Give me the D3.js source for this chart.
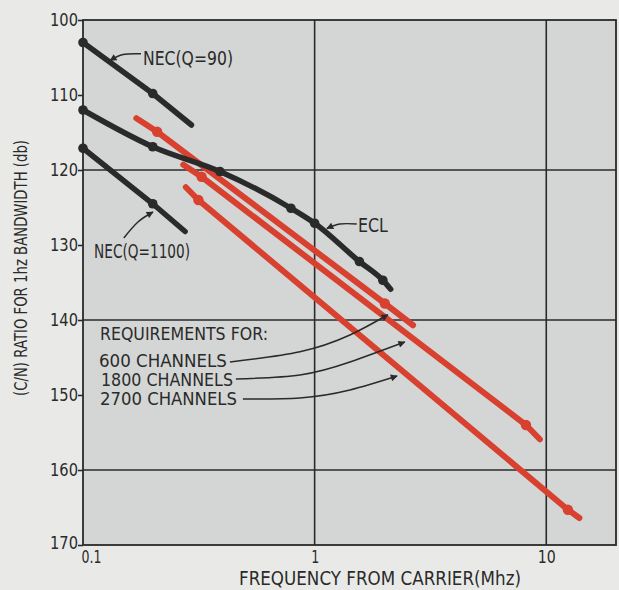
<!DOCTYPE html>
<html>
<head>
<meta charset="utf-8">
<script src="https://cdn.jsdelivr.net/npm/d3@7"></script>
<style>
  html, body { margin: 0; padding: 0; background: #e9eae8; }
  svg { display: block; }
  text { font-family: "DejaVu Sans", "Liberation Sans", sans-serif; fill: #2a2a2a; }
</style>
</head>
<body>
<svg id="chart" width="619" height="590"></svg>
<script>
// ---------- DATA ----------
const xTicks = [0.1, 1, 10];
const xTickLabels = ["0.1", "1", "10"];
const yTicks = [100, 110, 120, 130, 140, 150, 160, 170];
const yTickLabels = ["100", "110", "120", "130", "140", "150", "160", "170"];
const xGrid = [1, 10];
const yGrid = [120, 140, 160];

// black curves (frequency in MHz, C/N in dB)
const necQ90X = [0.1, 0.2, 0.294];
const necQ90Y = [103.0, 109.8, 114.0];
const necQ90Dots = [0, 1];

const eclX = [0.1, 0.2, 0.39, 0.79, 1.0, 1.56, 1.97, 2.13];
const eclY = [112.0, 116.9, 120.2, 125.1, 127.1, 132.2, 134.7, 135.9];
const eclDots = [0, 1, 2, 3, 4, 5, 6];

const necQ1100X = [0.1, 0.2, 0.276];
const necQ1100Y = [117.1, 124.5, 128.2];
const necQ1100Dots = [0, 1];

// red requirement lines
const req600X = [0.17, 0.209, 2.01, 2.66];
const req600Y = [113.1, 114.9, 137.8, 140.7];
const req600Dots = [1, 2];

const req1800X = [0.271, 0.325, 8.17, 9.38];
const req1800Y = [119.3, 120.9, 154.0, 155.9];
const req1800Dots = [1, 2];

const req2700X = [0.278, 0.315, 12.4, 13.9];
const req2700Y = [122.3, 124.0, 165.3, 166.4];
const req2700Dots = [1, 2];

// annotation labels
const labelTexts = ["NEC(Q=90)", "NEC(Q=1100)", "ECL", "REQUIREMENTS FOR:", "600 CHANNELS", "1800 CHANNELS", "2700 CHANNELS"];
const labelX = [0.1816, 0.1116, 1.538, 0.1184, 0.1172, 0.1196, 0.1184];
const labelY = [106.0, 131.73, 128.27, 142.67, 146.27, 148.8, 151.33];
const labelW = [90, 96, 30, 168, 128, 132, 137];
const labelSize = [19.5, 19.5, 19.5, 17.5, 17.5, 17.5, 17.5];

// leader arrows (data coords, last point = arrow tip)
const leaderNec90 = [[0.178, 104.5], [0.149, 104.6], [0.131, 105.4]];
const leaderNec1100 = [[0.150, 129.07], [0.1727, 126.93], [0.2005, 125.6]];
const leaderEcl = [[1.52, 127.2], [1.286, 127.2], [1.13, 127.8]];
const leader600 = [[0.431, 145.6], [0.864, 144.23], [1.42, 142.0], [2.07, 139.3]];
const leader1800 = [[0.457, 147.87], [0.864, 147.33], [1.42, 145.6], [2.45, 142.93]];
const leader2700 = [[0.49, 150.53], [0.864, 150.4], [1.42, 149.33], [2.27, 147.47]];

const xTitle = "FREQUENCY FROM CARRIER(Mhz)";
const yTitle = "(C/N) RATIO FOR 1hz BANDWIDTH (db)";

// ---------- DRAW ----------
(function () {
const svg = d3.select("#chart");
const pL = 83, pR = 616, pT = 20, pB = 545;
const x = d3.scaleLog().domain([0.1, 20]).range([pL, pR]);
const y = d3.scaleLinear().domain([100, 170]).range([pT, pB]);

const dark = "#2a2a2a";
const red = "#d8402f";

svg.append("defs").append("marker")
  .attr("id", "arrow")
  .attr("viewBox", "0 0 10 10")
  .attr("refX", 9).attr("refY", 5)
  .attr("markerWidth", 9).attr("markerHeight", 7)
  .attr("markerUnits", "userSpaceOnUse")
  .attr("orient", "auto")
  .append("path").attr("d", "M0,0 L10,5 L0,10 z").attr("fill", dark);

// panel
svg.append("rect").attr("x", pL).attr("y", pT)
  .attr("width", pR - pL).attr("height", pB - pT)
  .attr("fill", "#d4d6d5");

// grid
svg.append("g").selectAll("line").data(xGrid).join("line")
  .attr("x1", d => x(d)).attr("x2", d => x(d))
  .attr("y1", pT).attr("y2", pB)
  .attr("stroke", dark).attr("stroke-width", 1.6);
svg.append("g").selectAll("line").data(yGrid).join("line")
  .attr("x1", pL).attr("x2", pR)
  .attr("y1", d => y(d)).attr("y2", d => y(d))
  .attr("stroke", dark).attr("stroke-width", 1.6);

// frame
svg.append("rect").attr("x", pL).attr("y", pT)
  .attr("width", pR - pL).attr("height", pB - pT)
  .attr("fill", "none").attr("stroke", dark).attr("stroke-width", 1.8);

// y axis
const yAxis = d3.axisLeft(y).tickValues(yTicks)
  .tickFormat((d, i) => yTickLabels[i]).tickSize(5).tickPadding(0);
const gy = svg.append("g").attr("transform", `translate(${pL},0)`).call(yAxis);
gy.select(".domain").remove();
gy.selectAll("line").attr("stroke", dark).attr("stroke-width", 1.6);
gy.selectAll("text").attr("font-size", 18).attr("fill", "#2a2a2a")
  .attr("font-family", "DejaVu Sans")
  .attr("textLength", 28).attr("lengthAdjust", "spacingAndGlyphs")
  .attr("dy", (d, i) => i === yTicks.length - 1 ? "0.2em" : "0.32em");

// x axis
const xAxis = d3.axisBottom(x).tickValues(xTicks)
  .tickFormat((d, i) => xTickLabels[i]).tickSize(0).tickPadding(5);
const gx = svg.append("g").attr("transform", `translate(0,${pB})`).call(xAxis);
gx.select(".domain").remove();
gx.selectAll("text").attr("font-size", 18).attr("fill", "#2a2a2a")
  .attr("font-family", "DejaVu Sans")
  .attr("textLength", (d, i) => [20, 8, 18][i]).attr("lengthAdjust", "spacingAndGlyphs")
  .attr("dx", (d, i) => i === 0 ? 8 : 0);

// series
const line = d3.line().x(d => x(d[0])).y(d => y(d[1]));
const smooth = d3.line().x(d => x(d[0])).y(d => y(d[1])).curve(d3.curveMonotoneX);
const zip = (xs, ys) => xs.map((v, i) => [v, ys[i]]);

function series(xs, ys, dots, color, width, r, gen) {
  const pts = zip(xs, ys);
  svg.append("path").attr("d", gen(pts)).attr("fill", "none")
    .attr("stroke", color).attr("stroke-width", width).attr("stroke-linecap", "round");
  svg.append("g").selectAll("circle").data(dots.map(i => pts[i])).join("circle")
    .attr("cx", d => x(d[0])).attr("cy", d => y(d[1])).attr("r", r).attr("fill", color);
}

series(req600X, req600Y, req600Dots, red, 6, 5.2, line);
series(req1800X, req1800Y, req1800Dots, red, 6, 5.2, line);
series(req2700X, req2700Y, req2700Dots, red, 6, 5.2, line);
series(necQ90X, necQ90Y, necQ90Dots, dark, 5.5, 4.8, line);
series(necQ1100X, necQ1100Y, necQ1100Dots, dark, 5.5, 4.8, line);
series(eclX, eclY, eclDots, dark, 5.5, 4.8, smooth);

// leaders
const leaderGen = d3.line().x(d => x(d[0])).y(d => y(d[1])).curve(d3.curveNatural);
[leaderNec90, leaderNec1100, leaderEcl, leader600, leader1800, leader2700].forEach(pts => {
  svg.append("path").attr("d", leaderGen(pts)).attr("fill", "none")
    .attr("stroke", dark).attr("stroke-width", 1.5)
    .attr("marker-end", "url(#arrow)");
});

// labels
svg.append("g").selectAll("text").data(labelTexts).join("text")
  .attr("x", (d, i) => x(labelX[i])).attr("y", (d, i) => y(labelY[i]))
  .attr("font-size", (d, i) => labelSize[i])
  .attr("textLength", (d, i) => labelW[i]).attr("lengthAdjust", "spacingAndGlyphs")
  .text(d => d);

// axis titles
svg.append("text").attr("x", 380).attr("y", 585)
  .attr("text-anchor", "middle").attr("font-size", 19)
  .attr("textLength", 282).attr("lengthAdjust", "spacingAndGlyphs")
  .text(xTitle);
svg.append("text").attr("transform", "translate(27,268) rotate(-90)")
  .attr("text-anchor", "middle").attr("font-size", 18.5)
  .attr("textLength", 256).attr("lengthAdjust", "spacingAndGlyphs")
  .text(yTitle);
})();
</script>
</body>
</html>
